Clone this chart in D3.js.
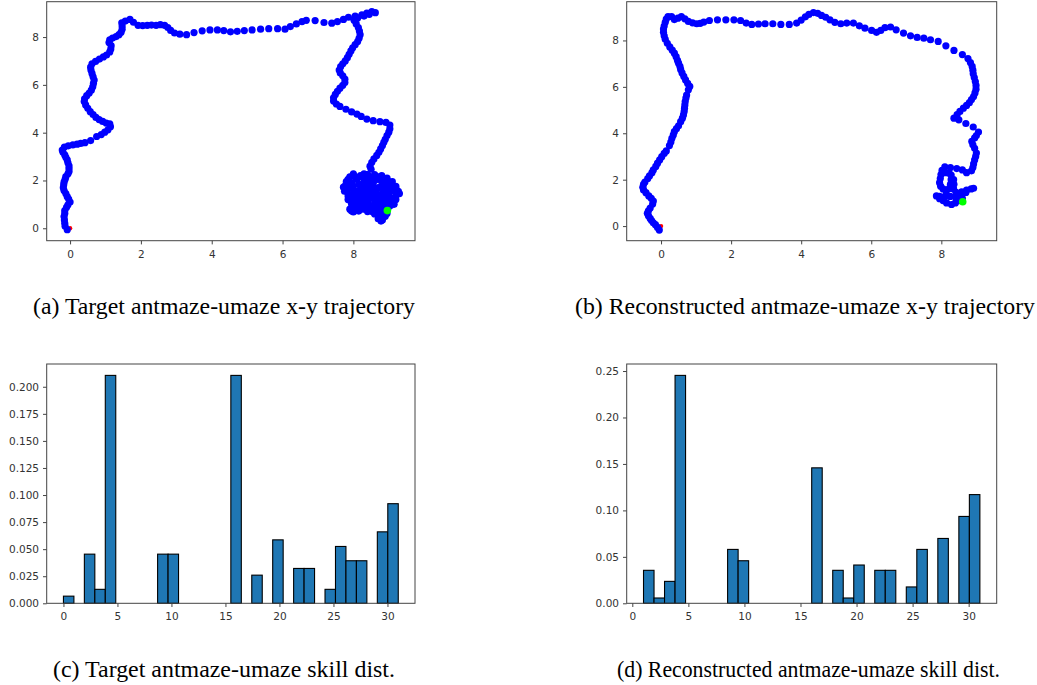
<!DOCTYPE html>
<html>
<head>
<meta charset="utf-8">
<script src="https://cdn.jsdelivr.net/npm/d3@7"></script>
<style>
  body { margin: 0; background: #fff; }
  svg { display: block; }
  .tick text { font-family: "DejaVu Sans", sans-serif; font-size: 10.5px; fill: #333; }
  .caption { font-family: "Liberation Serif", "Times New Roman", serif; font-size: 22.5px; fill: #000; }
</style>
</head>
<body>
<svg id="chart" width="1037" height="685"></svg>
<script>
// ---- data ----

// (a) target x-y trajectory
var trajTarget = [
  [-0.08,-0.06],[-0.14,0.08],[-0.15,0.21],[-0.16,0.35],[-0.17,0.49],[-0.15,0.62],[-0.15,0.74],[-0.1,0.88],
  [-0.06,0.98],[0,1.1],[-0.04,1.22],[-0.08,1.32],[-0.12,1.45],[-0.17,1.58],[-0.19,1.7],[-0.18,1.82],
  [-0.17,1.93],[-0.14,2.05],[-0.12,2.16],[-0.06,2.28],[-0.03,2.38],[-0.03,2.5],[-0.03,2.61],[-0.06,2.74],
  [-0.08,2.86],[-0.12,2.97],[-0.15,3.07],[-0.2,3.18],[-0.22,3.27],[-0.16,3.4],[-0.05,3.45],[0.08,3.49],
  [0.2,3.52],[0.3,3.55],[0.42,3.58],[0.58,3.67],[0.75,3.84],[0.88,3.92],[0.98,4.02],[1.07,4.12],
  [1.14,4.25],[1.12,4.37],[1.02,4.4],[0.92,4.47],[0.82,4.55],[0.73,4.64],[0.65,4.76],[0.57,4.88],
  [0.5,5.02],[0.44,5.16],[0.4,5.3],[0.41,5.42],[0.47,5.55],[0.54,5.66],[0.6,5.78],[0.64,5.92],
  [0.66,6.06],[0.68,6.2],[0.65,6.34],[0.62,6.48],[0.59,6.62],[0.58,6.74],[0.62,6.88],[0.72,6.98],
  [0.83,7.08],[0.94,7.17],[1.03,7.25],[1.12,7.38],[1.15,7.5],[1.16,7.64],[1.1,7.77],[1.12,7.88],
  [1.2,7.96],[1.3,8.02],[1.38,8.1],[1.44,8.2],[1.47,8.33],[1.47,8.46],[1.46,8.6],[1.56,8.67],
  [1.69,8.74],[1.79,8.62],[1.92,8.49],[2.05,8.48],[2.18,8.49],[2.3,8.5],[2.43,8.49],[2.55,8.52],
  [2.67,8.49],[2.76,8.4],[2.84,8.28],[2.95,8.17],[3.1,8.12],[3.29,8.1],[3.5,8.19],[3.73,8.26],
  [3.95,8.3],[4.16,8.3],[4.34,8.27],[4.53,8.22],[4.72,8.24],[4.92,8.27],[5.14,8.3],[5.38,8.33],
  [5.61,8.35],[5.86,8.35],[6.07,8.33],[6.22,8.44],[6.39,8.55],[6.55,8.65],[6.67,8.7],[6.92,8.69],
  [7.17,8.61],[7.39,8.58],[7.55,8.65],[7.72,8.74],[7.86,8.83],[8.05,8.88],[8.24,8.93],[8.38,9.0],
  [8.52,9.07],[8.62,9.02],[8.45,8.95],[8.3,8.88],[8.12,8.8],[8.02,8.7],[8.08,8.55],[8.14,8.4],
  [8.17,8.25],[8.19,8.1],[8.16,7.95],[8.12,7.81],[8.05,7.68],[7.98,7.55],[7.93,7.42],[7.88,7.28],
  [7.83,7.14],[7.77,7.0],[7.7,6.88],[7.64,6.76],[7.6,6.62],[7.63,6.5],[7.7,6.38],[7.76,6.24],
  [7.76,6.1],[7.7,5.98],[7.62,5.86],[7.55,5.73],[7.49,5.6],[7.44,5.46],[7.44,5.32],[7.52,5.2],
  [7.62,5.1],[7.79,4.98],[7.95,4.87],[8.1,4.78],[8.22,4.68],[8.38,4.57],[8.56,4.5],[8.75,4.46],
  [8.92,4.43],[9.03,4.32],[9.03,4.16],[9.0,4.02],[8.95,3.88],[8.9,3.72],[8.86,3.6],[8.82,3.46],
  [8.77,3.32],[8.72,3.18],[8.66,3.05],[8.58,2.9],[8.52,2.76],[8.47,2.6],[8.5,2.47],
  [8.4,2.25],[8.2,2.2],[8.0,2.28],[7.9,2.15],[7.8,1.95],[7.72,1.72],[7.8,1.55],[7.95,1.4],
  [8.0,1.2],[7.95,1.0],[7.9,0.8],[8.0,0.68],[8.15,0.72],[8.3,0.8],[8.4,0.7],[8.55,0.68],
  [8.7,0.75],[8.75,0.55],[8.7,0.4],[8.82,0.35],[8.9,0.5],[9.05,0.95],[9.1,1.15],[9.2,1.35],
  [9.27,1.55],[9.2,1.75],[9.1,1.95],[8.95,2.1],[8.8,2.2],[8.6,2.25],[8.45,2.1],[8.3,1.95],
  [8.15,1.85],[8.0,1.75],[7.85,1.65],[7.78,1.8],[7.95,1.9],[8.1,2.05],[8.25,2.15],[8.4,2.0],
  [8.55,1.85],[8.7,1.7],[8.85,1.55],[9.0,1.4],[9.15,1.55],[9.1,1.75],[8.95,1.85],[8.8,1.95],
  [8.65,2.05],[8.5,1.95],[8.35,1.8],[8.2,1.65],[8.05,1.55],[8.1,1.35],[8.25,1.2],[8.4,1.05],
  [8.55,0.95],[8.7,1.05],[8.85,1.15],[8.95,1.3],[8.8,1.4],[8.65,1.5],[8.5,1.6],[8.35,1.5],
  [8.2,1.4],[8.1,1.2],[8.15,1.0],[8.3,0.95],[8.45,1.25],[8.6,1.35],[8.75,1.25],[8.9,1.0],
  [8.8,0.85],[8.6,0.85],[8.45,0.9],[8.3,1.1],[8.35,1.35],[8.5,1.45],[8.65,1.65],[8.8,1.75],
  [8.95,1.6],[9.1,1.25],
  [7.85,2.05],[8.05,2.15],[8.3,2.28],[8.55,2.15],[8.75,2.05],[9.0,1.95],[9.2,1.65],[9.3,1.45],
  [9.2,1.2],[9.05,1.1],[8.95,1.15],[8.75,1.4],[8.5,1.75],[8.3,1.6],[8.0,1.45],[7.85,1.35],
  [7.92,1.15],[8.05,0.9],[7.95,0.72],[8.2,0.85],[8.45,0.78],[8.6,1.1],[8.4,1.4],[8.2,1.55],
  [8.0,1.6],[8.25,1.75],[8.45,1.9],[8.6,2.0],[8.9,1.8],[9.05,1.65],[8.9,1.45],[8.75,0.95],
  [8.6,0.6],[8.85,0.62],[8.78,0.3],[9.0,0.9],[9.15,1.0],[7.9,1.75],[7.75,1.55],[8.5,1.3],
  [8.65,1.2],[8.4,1.6],[8.1,0.95],[8.35,2.25],[8.7,2.15],[9.05,1.85],[7.85,1.2],[8.95,0.62]
];
var goalTarget = [8.96, 0.74];

// (b) reconstructed x-y trajectory
var trajRecon = [
  [-0.05,-0.17],[-0.1,-0.06],[-0.16,0.06],[-0.22,0.14],[-0.27,0.24],[-0.31,0.33],[-0.36,0.45],[-0.39,0.55],
  [-0.36,0.66],[-0.31,0.78],[-0.24,0.95],[-0.22,1.08],[-0.28,1.2],[-0.35,1.3],[-0.43,1.44],[-0.5,1.56],
  [-0.52,1.67],[-0.5,1.8],[-0.46,1.9],[-0.38,2.05],[-0.33,2.16],[-0.26,2.3],[-0.22,2.42],[-0.15,2.57],
  [-0.1,2.71],[-0.04,2.85],[0.02,2.99],[0.09,3.13],[0.15,3.24],[0.24,3.47],[0.28,3.62],[0.31,3.78],
  [0.35,3.93],[0.38,4.07],[0.44,4.2],[0.5,4.32],[0.56,4.5],[0.61,4.65],[0.64,4.79],[0.66,4.94],
  [0.67,5.08],[0.68,5.22],[0.69,5.37],[0.71,5.52],[0.73,5.65],[0.78,5.87],[0.82,6.02],[0.76,6.15],
  [0.7,6.3],[0.65,6.45],[0.6,6.6],[0.56,6.75],[0.54,6.88],[0.5,7.02],[0.47,7.14],[0.43,7.3],
  [0.38,7.45],[0.32,7.58],[0.25,7.72],[0.18,7.88],[0.12,8.05],[0.09,8.2],[0.07,8.35],[0.07,8.49],
  [0.09,8.62],[0.12,8.78],[0.15,8.92],[0.2,9.03],[0.3,9.03],[0.38,8.9],[0.48,8.96],[0.58,9.03],
  [0.68,8.93],[0.78,8.82],[0.9,8.76],[1.02,8.72],[1.12,8.74],[1.22,8.79],[1.38,8.86],[1.61,8.89],
  [1.85,8.89],[2.08,8.89],[2.27,8.86],[2.43,8.75],[2.59,8.69],[2.78,8.71],[2.97,8.72],[3.19,8.72],
  [3.42,8.69],[3.66,8.69],[3.87,8.75],[4.0,8.88],[4.12,9.02],[4.22,9.12],[4.35,9.2],[4.47,9.17],
  [4.58,9.08],[4.7,9.0],[4.82,8.89],[4.96,8.78],[5.13,8.72],[5.3,8.75],[5.49,8.75],[5.66,8.63],
  [5.82,8.53],[6.01,8.43],[6.15,8.35],[6.27,8.43],[6.39,8.55],[6.55,8.58],[6.71,8.46],[6.92,8.32],
  [7.12,8.2],[7.31,8.13],[7.5,8.1],[7.69,8.03],[7.91,7.96],[8.13,7.77],[8.36,7.57],[8.6,7.39],
  [8.76,7.22],[8.83,7.05],[8.88,6.88],[8.9,6.72],[8.91,6.56],[8.94,6.4],[8.97,6.23],[8.99,6.06],
  [8.99,5.9],[8.96,5.74],[8.92,5.58],[8.86,5.45],[8.8,5.32],[8.72,5.2],[8.63,5.08],[8.53,4.94],
  [8.45,4.8],[8.36,4.65],[8.5,4.58],[8.7,4.42],[8.91,4.27],[9.06,4.05],[9.0,3.9],[8.95,3.8],
  [8.87,3.65],[8.9,3.5],[8.95,3.35],[9.0,3.15],[8.98,3.0],[8.95,2.85],[8.92,2.68],[8.9,2.52],
  [8.86,2.38],[8.72,2.3],[8.6,2.42],[8.44,2.48],[8.26,2.52],[8.1,2.55],[8.02,2.4],[7.99,2.22],
  [7.97,2.05],[7.95,1.87],[7.98,1.72],[8.05,1.6],[8.14,1.5],[8.22,1.62],[8.26,1.8],[8.28,2.0],
  [8.28,2.2],[8.22,2.28],[8.12,2.3],[8.35,2.0],[8.36,1.8],[8.35,1.6],[8.42,1.45],[8.58,1.48],
  [8.72,1.55],[8.85,1.6],[8.92,1.63],[8.7,1.45],[8.55,1.35],[8.4,1.25],[8.25,1.28],[8.1,1.28],
  [7.95,1.28],[7.86,1.3],[7.95,1.18],[8.05,1.1],[8.15,1.0],[8.29,0.93],[8.4,1.0],[8.5,1.1],
  [8.6,1.2]
];
var goalRecon = [8.61, 1.05];
var startPoint = [0, 0];

// (c) target skill distribution (density)
var skillsTarget = [0, 2, 3, 4, 9, 10, 16, 18, 20, 22, 23, 25, 26, 27, 28, 30, 31];
var densTarget = [0.0066, 0.0454, 0.0129, 0.2105, 0.0454, 0.0454, 0.2105, 0.026, 0.0586, 0.0322, 0.0322, 0.0129, 0.0525, 0.0393, 0.0393, 0.066, 0.092];

// (d) reconstructed skill distribution (density)
var skillsRecon = [1, 2, 3, 4, 9, 10, 16, 18, 19, 20, 22, 23, 25, 26, 28, 30, 31];
var densRecon = [0.0355, 0.0057, 0.0236, 0.2453, 0.058, 0.0458, 0.1458, 0.0355, 0.0057, 0.0412, 0.0355, 0.0355, 0.0176, 0.058, 0.0698, 0.0935, 0.117];

var trajTicks = [0, 2, 4, 6, 8];
var histXTicks = [0, 5, 10, 15, 20, 25, 30];
var histYTicksTarget = [0, 0.025, 0.05, 0.075, 0.1, 0.125, 0.15, 0.175, 0.2];
var histYTicksRecon = [0, 0.05, 0.1, 0.15, 0.2, 0.25];

var captions = [
  "(a) Target antmaze-umaze x-y trajectory",
  "(b) Reconstructed antmaze-umaze x-y trajectory",
  "(c) Target antmaze-umaze skill dist.",
  "(d) Reconstructed antmaze-umaze skill dist."
];

// ---- drawing ----
var svg = d3.select("#chart");
var frameColor = "#444";

function drawAxes(g, x, y, xTicks, yTicks, yFmt) {
    let w = x.range()[1] - x.range()[0];
    let h = y.range()[0] - y.range()[1];
    let xa = g.append("g")
        .attr("transform", `translate(0,${y.range()[0]})`)
        .call(d3.axisBottom(x).tickValues(xTicks).tickSize(3.7).tickPadding(6).tickFormat(d3.format("d")));
    let ya = g.append("g")
        .attr("transform", `translate(${x.range()[0]},0)`)
        .call(d3.axisLeft(y).tickValues(yTicks).tickSize(3.7).tickPadding(4).tickFormat(yFmt));
    [xa, ya].forEach(function (a) {
        a.select(".domain").remove();
        a.selectAll(".tick line").attr("stroke", frameColor);
    });
    g.append("rect")
        .attr("x", x.range()[0]).attr("y", y.range()[1])
        .attr("width", w).attr("height", h)
        .attr("fill", "none").attr("stroke", frameColor).attr("stroke-width", 1);
}

function drawTrajectory(box, xDom, yDom, traj, goal) {
    let g = svg.append("g");
    let x = d3.scaleLinear().domain(xDom).range([box.left, box.right]);
    let y = d3.scaleLinear().domain(yDom).range([box.bottom, box.top]);
    g.append("circle")
        .attr("cx", x(startPoint[0])).attr("cy", y(startPoint[1]))
        .attr("r", 2.2).attr("fill", "#ff0000");
    g.append("g").selectAll("circle")
        .data(traj).enter().append("circle")
        .attr("cx", function (d) { return x(d[0]); })
        .attr("cy", function (d) { return y(d[1]); })
        .attr("r", 3.6)
        .attr("fill", "#0000ff");
    g.append("circle")
        .attr("cx", x(goal[0])).attr("cy", y(goal[1]))
        .attr("r", 3.8).attr("fill", "#00ff00");
    drawAxes(g, x, y, trajTicks, trajTicks, d3.format("d"));
}

function drawHist(box, skills, dens, yTicks, yFmt) {
    let g = svg.append("g");
    let lo = d3.min(skills), hi = d3.max(skills);
    let nBins = 32;
    let bw = (hi - lo) / nBins;
    let pad = (hi - lo) * 0.05;
    let x = d3.scaleLinear().domain([lo - pad, hi + pad]).range([box.left, box.right]);
    let y = d3.scaleLinear().domain([0, d3.max(dens) * 1.05]).range([box.bottom, box.top]);
    let bars = skills.map(function (s, i) {
        let k = Math.min(nBins - 1, Math.floor((s - lo) / bw + 1e-9));
        return { x0: lo + k * bw, x1: lo + (k + 1) * bw, v: dens[i] };
    });
    g.append("g").selectAll("rect")
        .data(bars).enter().append("rect")
        .attr("x", function (d) { return x(d.x0); })
        .attr("width", function (d) { return x(d.x1) - x(d.x0); })
        .attr("y", function (d) { return y(d.v); })
        .attr("height", function (d) { return y(0) - y(d.v); })
        .attr("fill", "#1f77b4")
        .attr("stroke", "#000")
        .attr("stroke-width", 1.1);
    drawAxes(g, x, y, histXTicks, yTicks, yFmt);
}

drawTrajectory({left: 46.7, right: 415, top: 1.7, bottom: 240.7}, [-0.66, 9.74], [-0.52, 9.48], trajTarget, goalTarget);
drawTrajectory({left: 626.7, right: 996.7, top: 1.7, bottom: 240.7}, [-0.98, 9.58], [-0.63, 9.67], trajRecon, goalRecon);
drawHist({left: 46.7, right: 415, top: 364, bottom: 603.3}, skillsTarget, densTarget, histYTicksTarget, d3.format(".3f"));
drawHist({left: 626.7, right: 996.7, top: 364, bottom: 603.3}, skillsRecon, densRecon, histYTicksRecon, d3.format(".2f"));

// caption start x, baseline y, width
var capPos = [[33, 314, 382], [575, 314, 460], [53, 677, 342], [617, 677, 383]];
svg.selectAll("text.caption")
    .data(captions).enter().append("text")
    .attr("class", "caption")
    .attr("x", function (d, i) { return capPos[i][0]; })
    .attr("y", function (d, i) { return capPos[i][1]; })
    .attr("textLength", function (d, i) { return capPos[i][2]; })
    .attr("lengthAdjust", "spacingAndGlyphs")
    .text(function (d) { return d; });
</script>
</body>
</html>
